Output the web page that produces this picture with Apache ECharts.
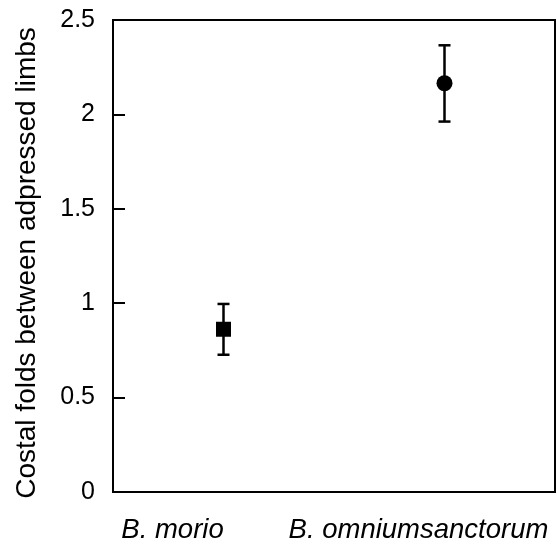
<!DOCTYPE html>
<html>
<head>
<meta charset="utf-8">
<script src="https://cdn.jsdelivr.net/npm/echarts@6/dist/echarts.min.js"></script>
<style>
    html, body { margin: 0; padding: 0; background: #fff; }
    #chart { width: 557px; height: 546px; }
</style>
</head>
<body>
<div id="chart"></div>
<script>
// 物种
var species = ['B. morio', 'B. omniumsanctorum'];
// 均值
var means = [0.862, 2.165];
// 误差上下限
var lowerVals = [0.727, 1.962];
var upperVals = [0.996, 2.366];
// y轴刻度
var yTicks = [0, 0.5, 1, 1.5, 2, 2.5];

var chartMain = document.getElementById('chart');
var mychart = echarts.init(chartMain);

var fontFamily = '"Liberation Sans", Arial, sans-serif';

var option = {
    animation: false,
    grid: {
        left: 113,
        top: 20,
        right: 2,
        bottom: 54,
        show: true,
        borderColor: '#000',
        borderWidth: 2
    },
    xAxis: {
        type: 'category',
        data: [
            //标签位置偏左，用右侧padding挤过去
            {value: species[0], textStyle: {padding: [0, 102, 0, 0]}},
            {value: species[1], textStyle: {padding: [0, 52, 0, 0]}}
        ],
        axisLine: {lineStyle: {color: '#000', width: 2}},
        axisTick: {show: false},
        axisLabel: {
            interval: 0,
            hideOverlap: false,
            margin: 25,
            fontSize: 27.5,
            fontStyle: 'italic',
            color: '#000',
            fontFamily: fontFamily
        }
    },
    yAxis: {
        type: 'value',
        min: yTicks[0],
        max: yTicks[yTicks.length - 1],
        interval: 0.5,
        name: 'Costal folds between adpressed limbs',
        nameLocation: 'middle',
        nameGap: 72,
        nameTextStyle: {fontSize: 28, color: '#000', fontFamily: fontFamily, padding: [0, 14, 0, 0]},
        axisLine: {show: true, lineStyle: {color: '#000', width: 2}},
        axisTick: {show: true, inside: true, length: 12, lineStyle: {color: '#000', width: 2}},
        splitLine: {show: false},
        axisLabel: {
            margin: 18,
            fontSize: 25,
            color: '#000',
            fontFamily: fontFamily,
            formatter: function (v) { return String(v); }
        }
    },
    series: [
        {
            // 误差线
            type: 'custom',
            data: species.map(function (s, i) { return [i, lowerVals[i], upperVals[i]]; }),
            renderItem: function (params, api) {
                var lo = api.coord([api.value(0), api.value(1)]);
                var hi = api.coord([api.value(0), api.value(2)]);
                var hw = 6;
                var style = {stroke: '#000', lineWidth: 2.5};
                return {
                    type: 'group',
                    children: [
                        {type: 'line', shape: {x1: lo[0], y1: lo[1], x2: hi[0], y2: hi[1]}, style: style},
                        {type: 'line', shape: {x1: lo[0] - hw, y1: lo[1], x2: lo[0] + hw, y2: lo[1]}, style: style},
                        {type: 'line', shape: {x1: hi[0] - hw, y1: hi[1], x2: hi[0] + hw, y2: hi[1]}, style: style}
                    ]
                };
            },
            z: 2
        },
        {
            type: 'scatter',
            data: [
                {value: [0, means[0]], symbol: 'rect', symbolSize: 15},
                {value: [1, means[1]], symbol: 'circle', symbolSize: 16}
            ],
            itemStyle: {color: '#000', opacity: 1},
            z: 3
        }
    ]
};

mychart.setOption(option);
</script>
</body>
</html>
